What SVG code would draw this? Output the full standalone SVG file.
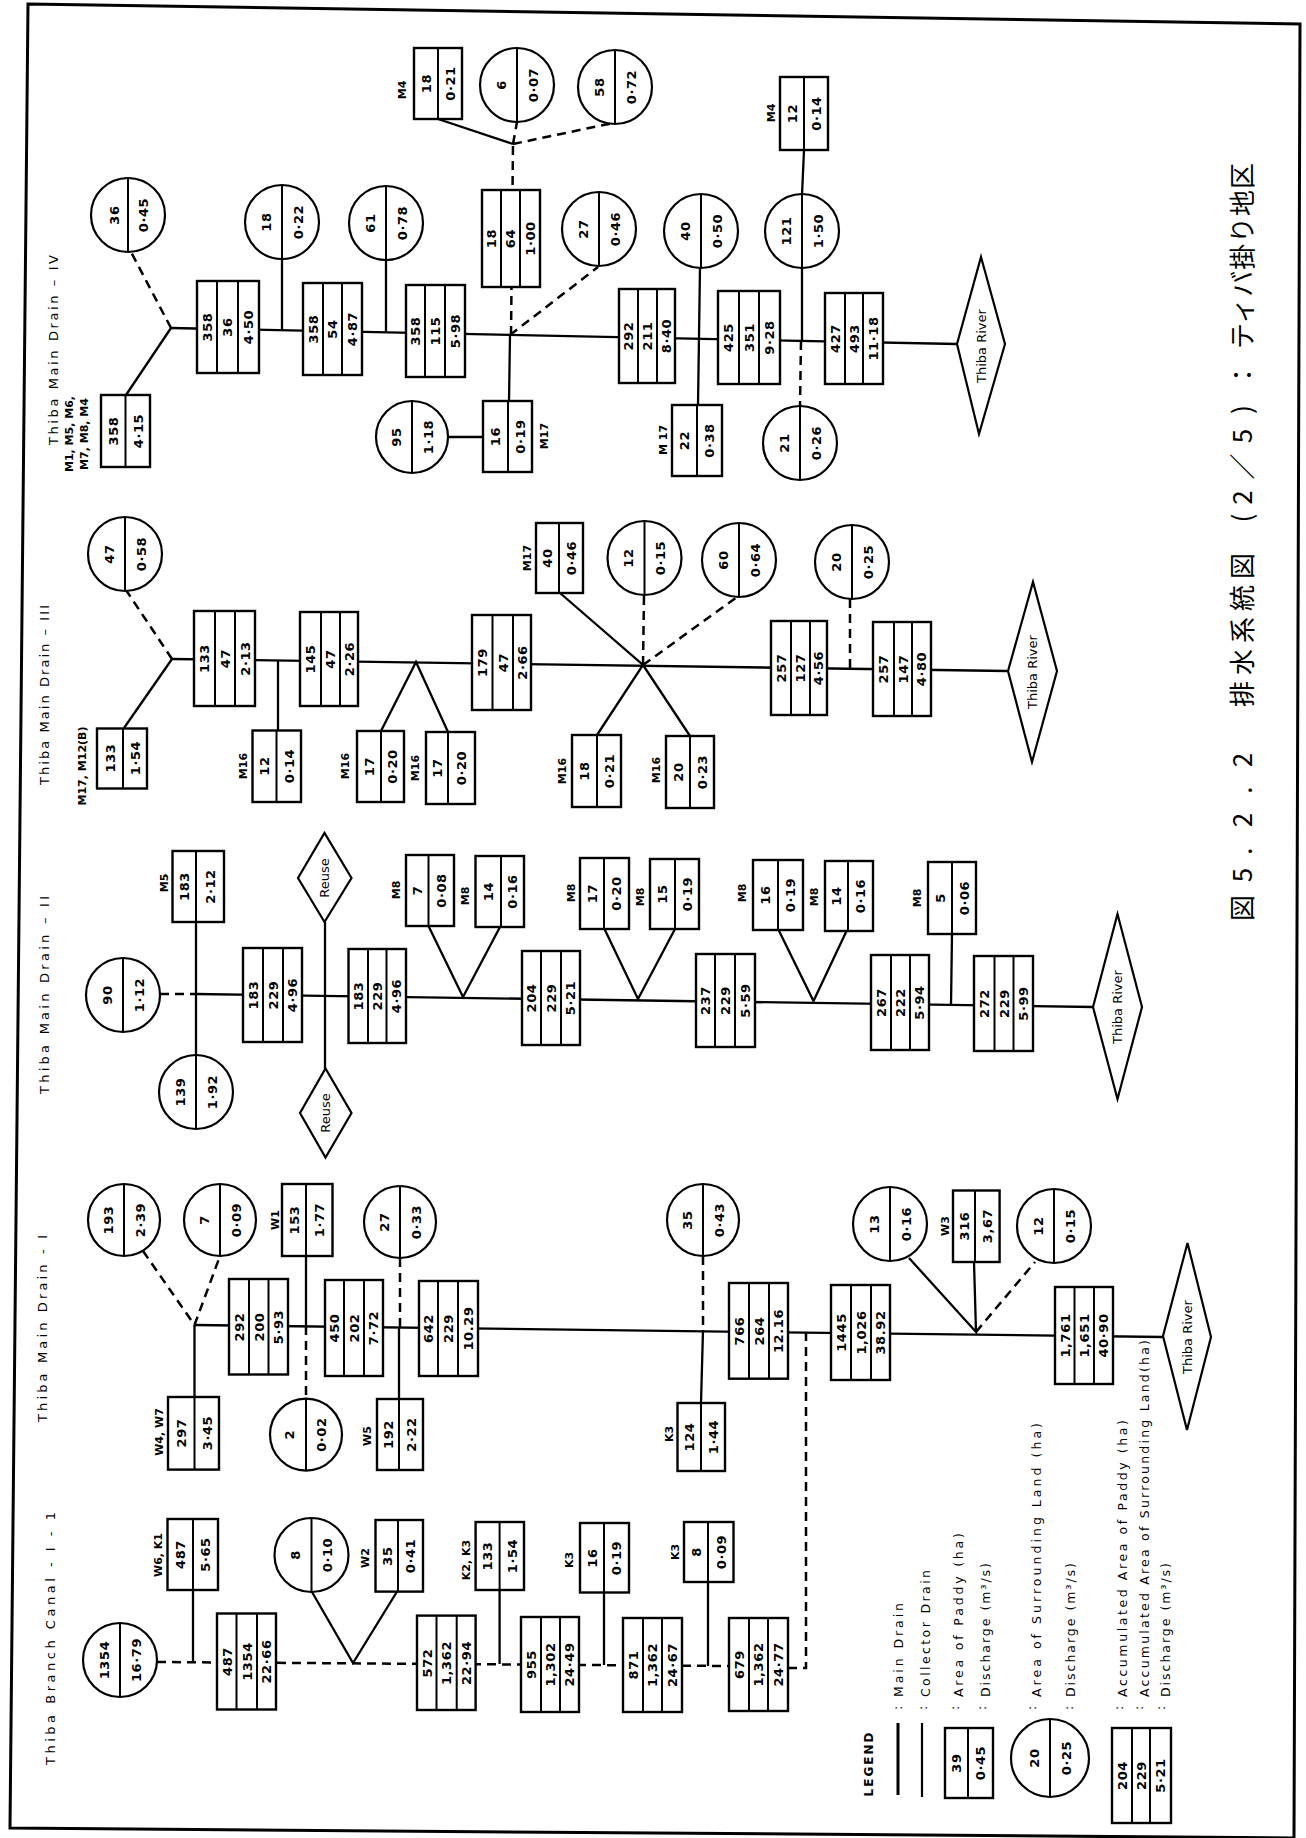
<svg xmlns="http://www.w3.org/2000/svg" width="1306" height="1838" viewBox="0 0 1306 1838">
<style>
.bx{fill:#fff;stroke:#000;stroke-width:2.4}
.dv{stroke:#000;stroke-width:2;fill:none}
.ci{fill:#fff;stroke:#000;stroke-width:2.2}
.ln{stroke:#000;stroke-width:2.3;fill:none}
.ds{stroke:#000;stroke-width:2.5;stroke-dasharray:9 6;fill:none}
.dm{fill:#fff;stroke:#000;stroke-width:2.2}
text{font-family:"DejaVu Sans","Liberation Sans",sans-serif;fill:#000}
.n{font-size:13px;font-weight:bold;text-anchor:middle;dominant-baseline:central;letter-spacing:0.6px}
.lb{font-size:11px;font-weight:bold;text-anchor:middle;dominant-baseline:central}
.ti{font-size:13px;dominant-baseline:central}
.rv{font-size:13px;text-anchor:middle;dominant-baseline:central}
.lg{font-size:12.5px;dominant-baseline:central}
.cap{font-family:"Noto Sans CJK JP","Noto Sans CJK SC",sans-serif;font-size:26px;text-anchor:middle;dominant-baseline:central}
</style>
<rect width="1306" height="1838" fill="#fff"/>
<polygon points="28,4 1300,24 1294,1838 10,1828" fill="none" stroke="#000" stroke-width="3"/>

<g id="connectors">
<!-- Drain IV -->
<path class="ln" d="M171 328 L957 344"/>
<path class="ln" d="M171 328 L126 395"/>
<path class="ds" d="M171 328 L131 252"/>
<path class="ln" d="M282 330 V259 M386 332 V260"/>
<path class="ds" d="M511 335 L513 144"/>
<path class="ln" d="M513 144 L438 119"/>
<path class="ds" d="M513 144 L517 122 M513 144 L613 123"/>
<path class="ds" d="M510 335 L598 267"/>
<path class="ln" d="M510 335 L509 401 M448 437 H483"/>
<path class="ln" d="M700 267 L698 405"/>
<path class="ln" d="M804 150 L802 195 M802 267 L802 341"/>
<path class="ds" d="M801 341 L800 406"/>
<!-- Drain III -->
<path class="ln" d="M172 659 L1007 671"/>
<path class="ln" d="M172 659 L124 728"/>
<path class="ds" d="M172 659 L126 590"/>
<path class="ln" d="M278 660 V731"/>
<path class="ln" d="M381 731 L416 662 L448 732"/>
<path class="ln" d="M560 593 L643 665 L597 735 M690 736 L643 665"/>
<path class="ds" d="M643 665 L644 595 M643 665 L737 597"/>
<path class="ds" d="M850 668 V599"/>
<!-- Drain II -->
<path class="ds" d="M160 994 H196"/>
<path class="ln" d="M196 994 L1093 1007"/>
<path class="ln" d="M196 922 V1055"/>
<path class="ln" d="M325 922 V1069"/>
<path class="ln" d="M428.5 926 L463 997 L500 927"/>
<path class="ln" d="M604 928 L638 999 L675 929"/>
<path class="ln" d="M778.6 930 L813.5 1001 L847 930"/>
<path class="ln" d="M952 934 L951 1005"/>
<!-- Drain I -->
<path class="ln" d="M194.5 1325 L1163 1337"/>
<path class="ds" d="M143 1251 L194.5 1325 L220 1256"/>
<path class="ln" d="M194.5 1325 V1397"/>
<path class="ln" d="M306 1256 V1326"/>
<path class="ds" d="M306 1326 V1398"/>
<path class="ds" d="M400 1258 V1327"/>
<path class="ln" d="M399 1327 V1399"/>
<path class="ds" d="M703 1256 V1330"/>
<path class="ln" d="M703 1330 L701 1403"/>
<path class="ds" d="M788 1668 H806 V1333"/>
<path class="ln" d="M909 1258 L976 1332 L974 1262"/>
<path class="ds" d="M976 1332 L1035 1262"/>
<!-- Branch canal -->
<path class="ds" d="M157 1662 L729 1666"/>
<path class="ln" d="M193 1590 V1662"/>
<path class="ln" d="M312 1592 L353 1663 L398 1590"/>
<path class="ln" d="M499.6 1590 V1664 M604 1592 V1665 M708 1582 V1666"/>
</g>

<!-- ============ Drain IV ============ -->
<g id="title-iv"><text class="ti" x="53" y="445" transform="rotate(-90 53 445)" textLength="190" lengthAdjust="spacing">Thiba Main Drain – IV</text></g>
<g id="iv-a">
<rect class="bx" x="101" y="395" width="49" height="72"/><path class="dv" d="M125.5 395V467"/>
<text class="n" x="113" y="431" transform="rotate(-90 113 431)">358</text>
<text class="n" x="138" y="431" transform="rotate(-90 138 431)">4·15</text>
<text class="lb" x="69.5" y="434" transform="rotate(-90 69.5 434)">M1, M5, M6,</text>
<text class="lb" x="84" y="434" transform="rotate(-90 84 434)">M7, M8, M4</text>
</g>
<g id="iv-c36"><circle class="ci" cx="128" cy="215" r="37"/><path class="dv" d="M128 178V252"/>
<text class="n" x="114" y="215" transform="rotate(-90 114 215)">36</text>
<text class="n" x="143" y="215" transform="rotate(-90 143 215)">0·45</text></g>
<g id="iv-b"><rect class="bx" x="197" y="281" width="62" height="92"/><path class="dv" d="M217 281V373M238 281V373"/>
<text class="n" x="207" y="327" transform="rotate(-90 207 327)">358</text>
<text class="n" x="227.5" y="327" transform="rotate(-90 227.5 327)">36</text>
<text class="n" x="248.5" y="327" transform="rotate(-90 248.5 327)">4·50</text></g>
<g id="iv-c18"><circle class="ci" cx="282" cy="222" r="37"/><path class="dv" d="M282 185V259"/>
<text class="n" x="266" y="222" transform="rotate(-90 266 222)">18</text>
<text class="n" x="298" y="222" transform="rotate(-90 298 222)">0·22</text></g>
<g id="iv-c"><rect class="bx" x="303" y="283" width="59" height="92"/><path class="dv" d="M323 283V375M342 283V375"/>
<text class="n" x="313" y="329" transform="rotate(-90 313 329)">358</text>
<text class="n" x="332.5" y="329" transform="rotate(-90 332.5 329)">54</text>
<text class="n" x="352" y="329" transform="rotate(-90 352 329)">4·87</text></g>
<g id="iv-c61"><circle class="ci" cx="386" cy="223" r="37"/><path class="dv" d="M386 186V260"/>
<text class="n" x="370" y="223" transform="rotate(-90 370 223)">61</text>
<text class="n" x="402" y="223" transform="rotate(-90 402 223)">0·78</text></g>
<g id="iv-d"><rect class="bx" x="406" y="285" width="59" height="92"/><path class="dv" d="M425 285V377M445 285V377"/>
<text class="n" x="415.5" y="331" transform="rotate(-90 415.5 331)">358</text>
<text class="n" x="435" y="331" transform="rotate(-90 435 331)">115</text>
<text class="n" x="455" y="331" transform="rotate(-90 455 331)">5·98</text></g>
<g id="iv-e"><rect class="bx" x="482" y="190" width="58" height="97"/><path class="dv" d="M501 190V287M520 190V287"/>
<text class="n" x="491.5" y="238.5" transform="rotate(-90 491.5 238.5)">18</text>
<text class="n" x="510.5" y="238.5" transform="rotate(-90 510.5 238.5)">64</text>
<text class="n" x="530" y="238.5" transform="rotate(-90 530 238.5)">1·00</text></g>
<g id="iv-m4a"><rect class="bx" x="414" y="48" width="48" height="71"/><path class="dv" d="M438 48V119"/>
<text class="n" x="426" y="83.5" transform="rotate(-90 426 83.5)">18</text>
<text class="n" x="450" y="83.5" transform="rotate(-90 450 83.5)">0·21</text>
<text class="lb" x="402" y="90" transform="rotate(-90 402 90)">M4</text></g>
<g id="iv-c6"><circle class="ci" cx="517" cy="85" r="37"/><path class="dv" d="M517 48V122"/>
<text class="n" x="501" y="85" transform="rotate(-90 501 85)">6</text>
<text class="n" x="533" y="85" transform="rotate(-90 533 85)">0·07</text></g>
<g id="iv-c58"><circle class="ci" cx="615" cy="87" r="37"/><path class="dv" d="M615 50V124"/>
<text class="n" x="599" y="87" transform="rotate(-90 599 87)">58</text>
<text class="n" x="631" y="87" transform="rotate(-90 631 87)">0·72</text></g>
<g id="iv-c27"><circle class="ci" cx="599" cy="229" r="37"/><path class="dv" d="M599 192V266"/>
<text class="n" x="583" y="229" transform="rotate(-90 583 229)">27</text>
<text class="n" x="615" y="229" transform="rotate(-90 615 229)">0·46</text></g>
<g id="iv-c95"><circle class="ci" cx="412" cy="437" r="36"/><path class="dv" d="M412 401V473"/>
<text class="n" x="396" y="437" transform="rotate(-90 396 437)">95</text>
<text class="n" x="428" y="437" transform="rotate(-90 428 437)">1·18</text></g>
<g id="iv-m17a"><rect class="bx" x="483" y="401" width="49" height="71"/><path class="dv" d="M508 401V472"/>
<text class="n" x="495.5" y="436.5" transform="rotate(-90 495.5 436.5)">16</text>
<text class="n" x="520" y="436.5" transform="rotate(-90 520 436.5)">0·19</text>
<text class="lb" x="544" y="436" transform="rotate(-90 544 436)">M17</text></g>
<g id="iv-f"><rect class="bx" x="619" y="289" width="56" height="94"/><path class="dv" d="M638 289V383M657 289V383"/>
<text class="n" x="628.5" y="336" transform="rotate(-90 628.5 336)">292</text>
<text class="n" x="647.5" y="336" transform="rotate(-90 647.5 336)">211</text>
<text class="n" x="666" y="336" transform="rotate(-90 666 336)">8·40</text></g>
<g id="iv-c40"><circle class="ci" cx="701" cy="231" r="37"/><path class="dv" d="M701 194V268"/>
<text class="n" x="685" y="231" transform="rotate(-90 685 231)">40</text>
<text class="n" x="717" y="231" transform="rotate(-90 717 231)">0·50</text></g>
<g id="iv-m17b"><rect class="bx" x="672" y="405" width="50" height="71"/><path class="dv" d="M697 405V476"/>
<text class="n" x="684.5" y="440.5" transform="rotate(-90 684.5 440.5)">22</text>
<text class="n" x="709.5" y="440.5" transform="rotate(-90 709.5 440.5)">0·38</text>
<text class="lb" x="663" y="440" transform="rotate(-90 663 440)">M 17</text></g>
<g id="iv-g"><rect class="bx" x="718" y="291" width="62" height="93"/><path class="dv" d="M739 291V384M759 291V384"/>
<text class="n" x="728.5" y="337.5" transform="rotate(-90 728.5 337.5)">425</text>
<text class="n" x="749" y="337.5" transform="rotate(-90 749 337.5)">351</text>
<text class="n" x="769.5" y="337.5" transform="rotate(-90 769.5 337.5)">9·28</text></g>
<g id="iv-m4b"><rect class="bx" x="780" y="77" width="48" height="73"/><path class="dv" d="M804 77V150"/>
<text class="n" x="792" y="113.5" transform="rotate(-90 792 113.5)">12</text>
<text class="n" x="816" y="113.5" transform="rotate(-90 816 113.5)">0·14</text>
<text class="lb" x="771" y="113" transform="rotate(-90 771 113)">M4</text></g>
<g id="iv-c121"><circle class="ci" cx="802" cy="231" r="37"/><path class="dv" d="M802 194V268"/>
<text class="n" x="786" y="231" transform="rotate(-90 786 231)">121</text>
<text class="n" x="818" y="231" transform="rotate(-90 818 231)">1·50</text></g>
<g id="iv-c21"><circle class="ci" cx="800" cy="443" r="37"/><path class="dv" d="M800 406V480"/>
<text class="n" x="784" y="443" transform="rotate(-90 784 443)">21</text>
<text class="n" x="816" y="443" transform="rotate(-90 816 443)">0·26</text></g>
<g id="iv-h"><rect class="bx" x="825" y="293" width="58" height="91"/><path class="dv" d="M845 293V384M863 293V384"/>
<text class="n" x="835" y="338.5" transform="rotate(-90 835 338.5)">427</text>
<text class="n" x="854" y="338.5" transform="rotate(-90 854 338.5)">493</text>
<text class="n" x="873" y="338.5" transform="rotate(-90 873 338.5)">11·18</text></g>
<g id="iv-river"><polygon class="dm" points="957,344 981,257 1005,344 979,434"/>
<text class="rv" x="981" y="346" transform="rotate(-90 981 346)">Thiba River</text></g>

<!-- ============ Drain III ============ -->
<g id="title-iii"><text class="ti" x="44" y="785" transform="rotate(-90 44 785)" textLength="180" lengthAdjust="spacing">Thiba Main Drain – III</text></g>
<g id="iii-a"><rect class="bx" x="97" y="728.5" width="50" height="60"/><path class="dv" d="M123 728.5V788.5"/>
<text class="n" x="110" y="758" transform="rotate(-90 110 758)">133</text>
<text class="n" x="135" y="758" transform="rotate(-90 135 758)">1·54</text>
<text class="lb" x="82" y="766" transform="rotate(-90 82 766)">M17, M12(B)</text></g>
<g id="iii-c47"><circle class="ci" cx="125" cy="554" r="37"/><path class="dv" d="M125 517V591"/>
<text class="n" x="109" y="554" transform="rotate(-90 109 554)">47</text>
<text class="n" x="141" y="554" transform="rotate(-90 141 554)">0·58</text></g>
<g id="iii-b"><rect class="bx" x="194" y="611" width="61" height="95"/><path class="dv" d="M215 611V706M235 611V706"/>
<text class="n" x="204.5" y="658.5" transform="rotate(-90 204.5 658.5)">133</text>
<text class="n" x="225" y="658.5" transform="rotate(-90 225 658.5)">47</text>
<text class="n" x="245" y="658.5" transform="rotate(-90 245 658.5)">2·13</text></g>
<g id="iii-m16a"><rect class="bx" x="252.5" y="730.5" width="48.5" height="71.5"/><path class="dv" d="M276.5 730.5V802"/>
<text class="n" x="264.5" y="766" transform="rotate(-90 264.5 766)">12</text>
<text class="n" x="289" y="766" transform="rotate(-90 289 766)">0·14</text>
<text class="lb" x="243" y="766" transform="rotate(-90 243 766)">M16</text></g>
<g id="iii-c"><rect class="bx" x="300" y="612" width="58" height="94"/><path class="dv" d="M321 612V706M340 612V706"/>
<text class="n" x="310.5" y="659" transform="rotate(-90 310.5 659)">145</text>
<text class="n" x="330.5" y="659" transform="rotate(-90 330.5 659)">47</text>
<text class="n" x="349" y="659" transform="rotate(-90 349 659)">2·26</text></g>
<g id="iii-m16b"><rect class="bx" x="357" y="731" width="47" height="71"/><path class="dv" d="M381 731V802"/>
<text class="n" x="369" y="766.5" transform="rotate(-90 369 766.5)">17</text>
<text class="n" x="392.5" y="766.5" transform="rotate(-90 392.5 766.5)">0·20</text>
<text class="lb" x="345" y="766" transform="rotate(-90 345 766)">M16</text></g>
<g id="iii-m16c"><rect class="bx" x="426" y="732" width="49" height="72"/><path class="dv" d="M448 732V804"/>
<text class="n" x="437" y="768" transform="rotate(-90 437 768)">17</text>
<text class="n" x="461.5" y="768" transform="rotate(-90 461.5 768)">0·20</text>
<text class="lb" x="415" y="768" transform="rotate(-90 415 768)">M16</text></g>
<g id="iii-d"><rect class="bx" x="472" y="615" width="59" height="95"/><path class="dv" d="M492.5 615V710M513 615V710"/>
<text class="n" x="482" y="662.5" transform="rotate(-90 482 662.5)">179</text>
<text class="n" x="503" y="662.5" transform="rotate(-90 503 662.5)">47</text>
<text class="n" x="522" y="662.5" transform="rotate(-90 522 662.5)">2·66</text></g>
<g id="iii-m17"><rect class="bx" x="536" y="523" width="47" height="70"/><path class="dv" d="M559 523V593"/>
<text class="n" x="547.5" y="558" transform="rotate(-90 547.5 558)">40</text>
<text class="n" x="571" y="558" transform="rotate(-90 571 558)">0·46</text>
<text class="lb" x="527" y="558" transform="rotate(-90 527 558)">M17</text></g>
<g id="iii-c12"><circle class="ci" cx="644.5" cy="558" r="37"/><path class="dv" d="M644.5 521V595"/>
<text class="n" x="628.5" y="558" transform="rotate(-90 628.5 558)">12</text>
<text class="n" x="660.5" y="558" transform="rotate(-90 660.5 558)">0·15</text></g>
<g id="iii-c60"><circle class="ci" cx="739" cy="560" r="37"/><path class="dv" d="M739 523V597"/>
<text class="n" x="723" y="560" transform="rotate(-90 723 560)">60</text>
<text class="n" x="755" y="560" transform="rotate(-90 755 560)">0·64</text></g>
<g id="iii-m16d"><rect class="bx" x="572" y="735" width="49" height="72"/><path class="dv" d="M597 735V807"/>
<text class="n" x="584.5" y="771" transform="rotate(-90 584.5 771)">18</text>
<text class="n" x="609" y="771" transform="rotate(-90 609 771)">0·21</text>
<text class="lb" x="562" y="771" transform="rotate(-90 562 771)">M16</text></g>
<g id="iii-m16e"><rect class="bx" x="666" y="736" width="48" height="72"/><path class="dv" d="M690 736V808"/>
<text class="n" x="678" y="772" transform="rotate(-90 678 772)">20</text>
<text class="n" x="702" y="772" transform="rotate(-90 702 772)">0·23</text>
<text class="lb" x="656" y="770" transform="rotate(-90 656 770)">M16</text></g>
<g id="iii-e"><rect class="bx" x="771" y="621" width="56" height="94"/><path class="dv" d="M791 621V715M810 621V715"/>
<text class="n" x="781" y="668" transform="rotate(-90 781 668)">257</text>
<text class="n" x="800.5" y="668" transform="rotate(-90 800.5 668)">127</text>
<text class="n" x="818.5" y="668" transform="rotate(-90 818.5 668)">4·56</text></g>
<g id="iii-c20"><circle class="ci" cx="852" cy="562" r="37"/><path class="dv" d="M852 525V599"/>
<text class="n" x="836" y="562" transform="rotate(-90 836 562)">20</text>
<text class="n" x="868" y="562" transform="rotate(-90 868 562)">0·25</text></g>
<g id="iii-f"><rect class="bx" x="873" y="622" width="58" height="94"/><path class="dv" d="M894 622V716M912 622V716"/>
<text class="n" x="883.5" y="669" transform="rotate(-90 883.5 669)">257</text>
<text class="n" x="903" y="669" transform="rotate(-90 903 669)">147</text>
<text class="n" x="921.5" y="669" transform="rotate(-90 921.5 669)">4·80</text></g>
<g id="iii-river"><polygon class="dm" points="1008,671 1033,582 1057,671 1032,762"/>
<text class="rv" x="1032" y="672" transform="rotate(-90 1032 672)">Thiba River</text></g>

<!-- ============ Drain II ============ -->
<g id="title-ii"><text class="ti" x="44" y="1094" transform="rotate(-90 44 1094)" textLength="198" lengthAdjust="spacing">Thiba Main Drain – II</text></g>
<g id="ii-c90"><circle class="ci" cx="123" cy="995" r="37"/><path class="dv" d="M123 958V1032"/>
<text class="n" x="107" y="995" transform="rotate(-90 107 995)">90</text>
<text class="n" x="139" y="995" transform="rotate(-90 139 995)">1·12</text></g>
<g id="ii-c139"><circle class="ci" cx="196" cy="1092" r="37"/><path class="dv" d="M196 1055V1129"/>
<text class="n" x="180" y="1092" transform="rotate(-90 180 1092)">139</text>
<text class="n" x="212" y="1092" transform="rotate(-90 212 1092)">1·92</text></g>
<g id="ii-m5"><rect class="bx" x="172.5" y="851" width="51.5" height="71"/><path class="dv" d="M196 851V922"/>
<text class="n" x="184" y="886.5" transform="rotate(-90 184 886.5)">183</text>
<text class="n" x="210" y="886.5" transform="rotate(-90 210 886.5)">2·12</text>
<text class="lb" x="164" y="883" transform="rotate(-90 164 883)">M5</text></g>
<g id="ii-a"><rect class="bx" x="243" y="948" width="59" height="94"/><path class="dv" d="M263 948V1042M283 948V1042"/>
<text class="n" x="253" y="995" transform="rotate(-90 253 995)">183</text>
<text class="n" x="273" y="995" transform="rotate(-90 273 995)">229</text>
<text class="n" x="292.5" y="995" transform="rotate(-90 292.5 995)">4·96</text></g>
<g id="ii-reuse1"><polygon class="dm" points="298,878 324.5,833 351.5,878 324.5,922"/>
<text class="rv" x="324.5" y="878" transform="rotate(-90 324.5 878)">Reuse</text></g>
<g id="ii-reuse2"><polygon class="dm" points="300,1113 325.5,1068.5 351.5,1113 325.5,1157.5"/>
<text class="rv" x="325.5" y="1113" transform="rotate(-90 325.5 1113)">Reuse</text></g>
<g id="ii-b"><rect class="bx" x="348.5" y="949" width="57.5" height="94"/><path class="dv" d="M368 949V1043M386.5 949V1043"/>
<text class="n" x="358" y="996" transform="rotate(-90 358 996)">183</text>
<text class="n" x="377" y="996" transform="rotate(-90 377 996)">229</text>
<text class="n" x="396" y="996" transform="rotate(-90 396 996)">4·96</text></g>
<g id="ii-m8a"><rect class="bx" x="406" y="855" width="48" height="71"/><path class="dv" d="M428.5 855V926"/>
<text class="n" x="417" y="890.5" transform="rotate(-90 417 890.5)">7</text>
<text class="n" x="441" y="890.5" transform="rotate(-90 441 890.5)">0·08</text>
<text class="lb" x="396" y="890" transform="rotate(-90 396 890)">M8</text></g>
<g id="ii-m8b"><rect class="bx" x="475.5" y="856" width="48.5" height="71"/><path class="dv" d="M501 856V927"/>
<text class="n" x="488" y="891.5" transform="rotate(-90 488 891.5)">14</text>
<text class="n" x="512.5" y="891.5" transform="rotate(-90 512.5 891.5)">0·16</text>
<text class="lb" x="465" y="896" transform="rotate(-90 465 896)">M8</text></g>
<g id="ii-c"><rect class="bx" x="522" y="951" width="58" height="94"/><path class="dv" d="M541 951V1045M561 951V1045"/>
<text class="n" x="531.5" y="998" transform="rotate(-90 531.5 998)">204</text>
<text class="n" x="551" y="998" transform="rotate(-90 551 998)">229</text>
<text class="n" x="570.5" y="998" transform="rotate(-90 570.5 998)">5·21</text></g>
<g id="ii-m8c"><rect class="bx" x="580" y="858" width="49" height="71"/><path class="dv" d="M604 858V929"/>
<text class="n" x="592" y="893.5" transform="rotate(-90 592 893.5)">17</text>
<text class="n" x="616.5" y="893.5" transform="rotate(-90 616.5 893.5)">0·20</text>
<text class="lb" x="571" y="893" transform="rotate(-90 571 893)">M8</text></g>
<g id="ii-m8d"><rect class="bx" x="650" y="859" width="49" height="70"/><path class="dv" d="M675 859V929"/>
<text class="n" x="662.5" y="894" transform="rotate(-90 662.5 894)">15</text>
<text class="n" x="687" y="894" transform="rotate(-90 687 894)">0·19</text>
<text class="lb" x="640" y="897" transform="rotate(-90 640 897)">M8</text></g>
<g id="ii-d"><rect class="bx" x="696" y="954" width="59" height="93"/><path class="dv" d="M715 954V1047M735 954V1047"/>
<text class="n" x="705.5" y="1000.5" transform="rotate(-90 705.5 1000.5)">237</text>
<text class="n" x="725" y="1000.5" transform="rotate(-90 725 1000.5)">229</text>
<text class="n" x="745" y="1000.5" transform="rotate(-90 745 1000.5)">5·59</text></g>
<g id="ii-m8e"><rect class="bx" x="753" y="860" width="50" height="70"/><path class="dv" d="M778 860V930"/>
<text class="n" x="765.5" y="895" transform="rotate(-90 765.5 895)">16</text>
<text class="n" x="790.5" y="895" transform="rotate(-90 790.5 895)">0·19</text>
<text class="lb" x="742" y="893" transform="rotate(-90 742 893)">M8</text></g>
<g id="ii-m8f"><rect class="bx" x="825" y="861" width="48" height="70"/><path class="dv" d="M848 861V931"/>
<text class="n" x="836.5" y="896" transform="rotate(-90 836.5 896)">14</text>
<text class="n" x="860.5" y="896" transform="rotate(-90 860.5 896)">0·16</text>
<text class="lb" x="814" y="897" transform="rotate(-90 814 897)">M8</text></g>
<g id="ii-e"><rect class="bx" x="871" y="955" width="58" height="95"/><path class="dv" d="M891 955V1050M910 955V1050"/>
<text class="n" x="881" y="1002.5" transform="rotate(-90 881 1002.5)">267</text>
<text class="n" x="900.5" y="1002.5" transform="rotate(-90 900.5 1002.5)">222</text>
<text class="n" x="919.5" y="1002.5" transform="rotate(-90 919.5 1002.5)">5·94</text></g>
<g id="ii-m8g"><rect class="bx" x="928" y="862" width="48" height="72"/><path class="dv" d="M952 862V934"/>
<text class="n" x="940" y="898" transform="rotate(-90 940 898)">5</text>
<text class="n" x="964" y="898" transform="rotate(-90 964 898)">0·06</text>
<text class="lb" x="917" y="898" transform="rotate(-90 917 898)">M8</text></g>
<g id="ii-f"><rect class="bx" x="974" y="956" width="59" height="95"/><path class="dv" d="M994.5 956V1051M1013.5 956V1051"/>
<text class="n" x="984" y="1003.5" transform="rotate(-90 984 1003.5)">272</text>
<text class="n" x="1004" y="1003.5" transform="rotate(-90 1004 1003.5)">229</text>
<text class="n" x="1023" y="1003.5" transform="rotate(-90 1023 1003.5)">5·99</text></g>
<g id="ii-river"><polygon class="dm" points="1093,1007 1117.5,914 1142,1007 1117.5,1099"/>
<text class="rv" x="1117.5" y="1007" transform="rotate(-90 1117.5 1007)">Thiba River</text></g>

<!-- ============ Drain I ============ -->
<g id="title-i"><text class="ti" x="42" y="1422" transform="rotate(-90 42 1422)" textLength="187" lengthAdjust="spacing">Thiba Main Drain - I</text></g>
<g id="i-c193"><circle class="ci" cx="124" cy="1220" r="36"/><path class="dv" d="M124 1184V1256"/>
<text class="n" x="108" y="1220" transform="rotate(-90 108 1220)">193</text>
<text class="n" x="140" y="1220" transform="rotate(-90 140 1220)">2·39</text></g>
<g id="i-c7"><circle class="ci" cx="220" cy="1220" r="36"/><path class="dv" d="M220 1184V1256"/>
<text class="n" x="204" y="1220" transform="rotate(-90 204 1220)">7</text>
<text class="n" x="236" y="1220" transform="rotate(-90 236 1220)">0·09</text></g>
<g id="i-w4"><rect class="bx" x="168" y="1397" width="51" height="72.6"/><path class="dv" d="M194.5 1397V1469.6"/>
<text class="n" x="181" y="1433" transform="rotate(-90 181 1433)">297</text>
<text class="n" x="207" y="1433" transform="rotate(-90 207 1433)">3·45</text>
<text class="lb" x="159" y="1432" transform="rotate(-90 159 1432)">W4, W7</text></g>
<g id="i-a"><rect class="bx" x="229" y="1279" width="59" height="95.5"/><path class="dv" d="M249 1279V1374.5M268.5 1279V1374.5"/>
<text class="n" x="239" y="1327" transform="rotate(-90 239 1327)">292</text>
<text class="n" x="259" y="1327" transform="rotate(-90 259 1327)">200</text>
<text class="n" x="278" y="1327" transform="rotate(-90 278 1327)">5·93</text></g>
<g id="i-w1"><rect class="bx" x="282" y="1184" width="50.5" height="72"/><path class="dv" d="M306 1184V1256"/>
<text class="n" x="294" y="1220" transform="rotate(-90 294 1220)">153</text>
<text class="n" x="319" y="1220" transform="rotate(-90 319 1220)">1·77</text>
<text class="lb" x="275" y="1220" transform="rotate(-90 275 1220)">W1</text></g>
<g id="i-c2"><circle class="ci" cx="306" cy="1434.6" r="36"/><path class="dv" d="M306 1398.6V1470.6"/>
<text class="n" x="290" y="1434.6" transform="rotate(-90 290 1434.6)">2</text>
<text class="n" x="322" y="1434.6" transform="rotate(-90 322 1434.6)">0·02</text></g>
<g id="i-b"><rect class="bx" x="325" y="1280" width="58" height="96"/><path class="dv" d="M344 1280V1376M364 1280V1376"/>
<text class="n" x="334.5" y="1328" transform="rotate(-90 334.5 1328)">450</text>
<text class="n" x="354" y="1328" transform="rotate(-90 354 1328)">202</text>
<text class="n" x="373.5" y="1328" transform="rotate(-90 373.5 1328)">7·72</text></g>
<g id="i-c27"><circle class="ci" cx="400" cy="1222" r="36"/><path class="dv" d="M400 1186V1258"/>
<text class="n" x="384" y="1222" transform="rotate(-90 384 1222)">27</text>
<text class="n" x="416" y="1222" transform="rotate(-90 416 1222)">0·33</text></g>
<g id="i-w5"><rect class="bx" x="377" y="1399" width="46" height="71"/><path class="dv" d="M399 1399V1470"/>
<text class="n" x="388" y="1434.5" transform="rotate(-90 388 1434.5)">192</text>
<text class="n" x="411" y="1434.5" transform="rotate(-90 411 1434.5)">2·22</text>
<text class="lb" x="367" y="1436" transform="rotate(-90 367 1436)">W5</text></g>
<g id="i-c"><rect class="bx" x="419" y="1281" width="59" height="95"/><path class="dv" d="M438 1281V1376M458 1281V1376"/>
<text class="n" x="428.5" y="1328.5" transform="rotate(-90 428.5 1328.5)">642</text>
<text class="n" x="448" y="1328.5" transform="rotate(-90 448 1328.5)">229</text>
<text class="n" x="468" y="1328.5" transform="rotate(-90 468 1328.5)">10.29</text></g>
<g id="i-c35"><circle class="ci" cx="703" cy="1220" r="36"/><path class="dv" d="M703 1184V1256"/>
<text class="n" x="687" y="1220" transform="rotate(-90 687 1220)">35</text>
<text class="n" x="719" y="1220" transform="rotate(-90 719 1220)">0·43</text></g>
<g id="i-k3"><rect class="bx" x="677.5" y="1403" width="47.5" height="68"/><path class="dv" d="M701 1403V1471"/>
<text class="n" x="689" y="1437" transform="rotate(-90 689 1437)">124</text>
<text class="n" x="713" y="1437" transform="rotate(-90 713 1437)">1·44</text>
<text class="lb" x="669" y="1434" transform="rotate(-90 669 1434)">K3</text></g>
<g id="i-d"><rect class="bx" x="729" y="1283" width="59" height="95.7"/><path class="dv" d="M749 1283V1378.7M769 1283V1378.7"/>
<text class="n" x="739" y="1331" transform="rotate(-90 739 1331)">766</text>
<text class="n" x="759" y="1331" transform="rotate(-90 759 1331)">264</text>
<text class="n" x="778.5" y="1331" transform="rotate(-90 778.5 1331)">12.16</text></g>
<g id="i-e"><rect class="bx" x="831" y="1285" width="59" height="95"/><path class="dv" d="M851 1285V1380M871 1285V1380"/>
<text class="n" x="841" y="1332.5" transform="rotate(-90 841 1332.5)">1445</text>
<text class="n" x="861" y="1332.5" transform="rotate(-90 861 1332.5)">1,026</text>
<text class="n" x="880.5" y="1332.5" transform="rotate(-90 880.5 1332.5)">38.92</text></g>
<g id="i-c13"><circle class="ci" cx="890" cy="1224" r="37"/><path class="dv" d="M890 1187V1261"/>
<text class="n" x="874" y="1224" transform="rotate(-90 874 1224)">13</text>
<text class="n" x="906" y="1224" transform="rotate(-90 906 1224)">0·16</text></g>
<g id="i-w3"><rect class="bx" x="953" y="1190.5" width="46.6" height="71.5"/><path class="dv" d="M975 1190.5V1262"/>
<text class="n" x="964" y="1226" transform="rotate(-90 964 1226)">316</text>
<text class="n" x="987.5" y="1226" transform="rotate(-90 987.5 1226)">3,67</text>
<text class="lb" x="945" y="1226" transform="rotate(-90 945 1226)">W3</text></g>
<g id="i-c12"><circle class="ci" cx="1054" cy="1226" r="37"/><path class="dv" d="M1054 1189V1263"/>
<text class="n" x="1038" y="1226" transform="rotate(-90 1038 1226)">12</text>
<text class="n" x="1070" y="1226" transform="rotate(-90 1070 1226)">0·15</text></g>
<g id="i-f"><rect class="bx" x="1055" y="1287" width="58" height="97"/><path class="dv" d="M1074.5 1287V1384M1094 1287V1384"/>
<text class="n" x="1065" y="1335.5" transform="rotate(-90 1065 1335.5)">1,761</text>
<text class="n" x="1084" y="1335.5" transform="rotate(-90 1084 1335.5)">1,651</text>
<text class="n" x="1103.5" y="1335.5" transform="rotate(-90 1103.5 1335.5)">40·90</text></g>
<g id="i-river"><polygon class="dm" points="1163,1336 1187.5,1243 1211,1337 1187,1430"/>
<text class="rv" x="1187.5" y="1337" transform="rotate(-90 1187.5 1337)">Thiba River</text></g>

<!-- ============ Branch canal ============ -->
<g id="title-bc"><text class="ti" x="50.5" y="1765" transform="rotate(-90 50.5 1765)" textLength="253" lengthAdjust="spacing">Thiba Branch Canal - I - 1</text></g>
<g id="b-c1354"><circle class="ci" cx="120" cy="1660" r="37"/><path class="dv" d="M120 1623V1697"/>
<text class="n" x="104" y="1660" transform="rotate(-90 104 1660)">1354</text>
<text class="n" x="136" y="1660" transform="rotate(-90 136 1660)">16·79</text></g>
<g id="b-w6"><rect class="bx" x="167.5" y="1519" width="50.5" height="71"/><path class="dv" d="M193 1519V1590"/>
<text class="n" x="180" y="1554.5" transform="rotate(-90 180 1554.5)">487</text>
<text class="n" x="205.5" y="1554.5" transform="rotate(-90 205.5 1554.5)">5·65</text>
<text class="lb" x="158" y="1555" transform="rotate(-90 158 1555)">W6, K1</text></g>
<g id="b-a"><rect class="bx" x="217" y="1613.5" width="59" height="96"/><path class="dv" d="M236.5 1613.5V1709.5M257 1613.5V1709.5"/>
<text class="n" x="227" y="1661.5" transform="rotate(-90 227 1661.5)">487</text>
<text class="n" x="247" y="1661.5" transform="rotate(-90 247 1661.5)">1354</text>
<text class="n" x="266.5" y="1661.5" transform="rotate(-90 266.5 1661.5)">22·66</text></g>
<g id="b-c8"><circle class="ci" cx="311.5" cy="1555" r="37"/><path class="dv" d="M311.5 1518V1592"/>
<text class="n" x="295.5" y="1555" transform="rotate(-90 295.5 1555)">8</text>
<text class="n" x="327.5" y="1555" transform="rotate(-90 327.5 1555)">0·10</text></g>
<g id="b-w2"><rect class="bx" x="375.5" y="1520" width="47.5" height="71.6"/><path class="dv" d="M398 1520V1591.6"/>
<text class="n" x="387" y="1556" transform="rotate(-90 387 1556)">35</text>
<text class="n" x="410.5" y="1556" transform="rotate(-90 410.5 1556)">0·41</text>
<text class="lb" x="365" y="1558" transform="rotate(-90 365 1558)">W2</text></g>
<g id="b-b"><rect class="bx" x="417" y="1615.6" width="58.6" height="94.4"/><path class="dv" d="M436.5 1615.6V1710M456.7 1615.6V1710"/>
<text class="n" x="427" y="1663" transform="rotate(-90 427 1663)">572</text>
<text class="n" x="446.5" y="1663" transform="rotate(-90 446.5 1663)">1,362</text>
<text class="n" x="466" y="1663" transform="rotate(-90 466 1663)">22·94</text></g>
<g id="b-k23"><rect class="bx" x="475.6" y="1522" width="48.4" height="68"/><path class="dv" d="M499.6 1522V1590"/>
<text class="n" x="487.5" y="1556" transform="rotate(-90 487.5 1556)">133</text>
<text class="n" x="512" y="1556" transform="rotate(-90 512 1556)">1·54</text>
<text class="lb" x="466" y="1560" transform="rotate(-90 466 1560)">K2, K3</text></g>
<g id="b-c"><rect class="bx" x="521" y="1617" width="58" height="95"/><path class="dv" d="M541 1617V1712M560 1617V1712"/>
<text class="n" x="531" y="1664.5" transform="rotate(-90 531 1664.5)">955</text>
<text class="n" x="550.5" y="1664.5" transform="rotate(-90 550.5 1664.5)">1,302</text>
<text class="n" x="569.5" y="1664.5" transform="rotate(-90 569.5 1664.5)">24·49</text></g>
<g id="b-k3a"><rect class="bx" x="580" y="1523" width="49" height="69.5"/><path class="dv" d="M604 1523V1592.5"/>
<text class="n" x="592" y="1558" transform="rotate(-90 592 1558)">16</text>
<text class="n" x="616.5" y="1558" transform="rotate(-90 616.5 1558)">0·19</text>
<text class="lb" x="569" y="1560" transform="rotate(-90 569 1560)">K3</text></g>
<g id="b-d"><rect class="bx" x="623" y="1618" width="59" height="94"/><path class="dv" d="M643 1618V1712M662 1618V1712"/>
<text class="n" x="633" y="1665" transform="rotate(-90 633 1665)">871</text>
<text class="n" x="652.5" y="1665" transform="rotate(-90 652.5 1665)">1,362</text>
<text class="n" x="672" y="1665" transform="rotate(-90 672 1665)">24·67</text></g>
<g id="b-k3b"><rect class="bx" x="684" y="1522" width="49.5" height="60"/><path class="dv" d="M708 1522V1582"/>
<text class="n" x="696" y="1552" transform="rotate(-90 696 1552)">8</text>
<text class="n" x="721" y="1552" transform="rotate(-90 721 1552)">0·09</text>
<text class="lb" x="675" y="1552" transform="rotate(-90 675 1552)">K3</text></g>
<g id="b-e"><rect class="bx" x="729" y="1618" width="59" height="93"/><path class="dv" d="M749 1618V1711M768 1618V1711"/>
<text class="n" x="739" y="1664.5" transform="rotate(-90 739 1664.5)">679</text>
<text class="n" x="758.5" y="1664.5" transform="rotate(-90 758.5 1664.5)">1,362</text>
<text class="n" x="778" y="1664.5" transform="rotate(-90 778 1664.5)">24·77</text></g>

<!-- ============ Legend ============ -->
<g id="legend">
<text class="lb" x="869" y="1763.5" transform="rotate(-90 869 1763.5)" style="font-size:12px;letter-spacing:2px">LEGEND</text>
<path d="M898 1723V1795" stroke="#000" stroke-width="3"/>
<path d="M922 1723V1797" stroke="#000" stroke-width="2.2"/>
<rect class="bx" x="945" y="1728" width="48" height="70"/><path class="dv" d="M968 1728V1798"/>
<text class="n" x="956.5" y="1763" transform="rotate(-90 956.5 1763)">39</text>
<text class="n" x="980.5" y="1763" transform="rotate(-90 980.5 1763)">0·45</text>
<circle class="ci" cx="1050" cy="1758" r="39"/><path class="dv" d="M1050 1719V1797"/>
<text class="n" x="1034" y="1758" transform="rotate(-90 1034 1758)">20</text>
<text class="n" x="1066" y="1758" transform="rotate(-90 1066 1758)">0·25</text>
<rect class="bx" x="1112" y="1728" width="59" height="95"/><path class="dv" d="M1132 1728V1823M1150 1728V1823"/>
<text class="n" x="1122" y="1775.5" transform="rotate(-90 1122 1775.5)">204</text>
<text class="n" x="1141" y="1775.5" transform="rotate(-90 1141 1775.5)">229</text>
<text class="n" x="1160.5" y="1775.5" transform="rotate(-90 1160.5 1775.5)">5·21</text>
<text class="lg" x="897" y="1710" transform="rotate(-90 897 1710)">:</text>
<text class="lg" x="922" y="1710" transform="rotate(-90 922 1710)">:</text>
<text class="lg" x="954" y="1710" transform="rotate(-90 954 1710)">:</text>
<text class="lg" x="981" y="1710" transform="rotate(-90 981 1710)">:</text>
<text class="lg" x="1031" y="1710" transform="rotate(-90 1031 1710)">:</text>
<text class="lg" x="1068" y="1710" transform="rotate(-90 1068 1710)">:</text>
<text class="lg" x="1118" y="1710" transform="rotate(-90 1118 1710)">:</text>
<text class="lg" x="1138" y="1710" transform="rotate(-90 1138 1710)">:</text>
<text class="lg" x="1160" y="1710" transform="rotate(-90 1160 1710)">:</text>
<text class="lg" x="898" y="1697" transform="rotate(-90 898 1697)" textLength="94" lengthAdjust="spacing">Main Drain</text>
<text class="lg" x="925" y="1697" transform="rotate(-90 925 1697)" textLength="127" lengthAdjust="spacing">Collector Drain</text>
<text class="lg" x="958" y="1697" transform="rotate(-90 958 1697)" textLength="164" lengthAdjust="spacing">Area of Paddy (ha)</text>
<text class="lg" x="985" y="1697" transform="rotate(-90 985 1697)" textLength="134" lengthAdjust="spacing">Discharge (m³/s)</text>
<text class="lg" x="1036" y="1697" transform="rotate(-90 1036 1697)" textLength="274" lengthAdjust="spacing">Area of Surrounding Land (ha)</text>
<text class="lg" x="1070" y="1697" transform="rotate(-90 1070 1697)" textLength="134" lengthAdjust="spacing">Discharge (m³/s)</text>
<text class="lg" x="1122" y="1697" transform="rotate(-90 1122 1697)" textLength="277" lengthAdjust="spacing">Accumulated Area of Paddy (ha)</text>
<text class="lg" x="1144" y="1697" transform="rotate(-90 1144 1697)" textLength="357" lengthAdjust="spacing">Accumulated Area of Surrounding Land(ha)</text>
<text class="lg" x="1165" y="1697" transform="rotate(-90 1165 1697)" textLength="134" lengthAdjust="spacing">Discharge (m³/s)</text>
</g>

<!-- ============ Caption ============ -->
<g id="caption">
<text class="cap" x="1240" y="908" transform="rotate(-90 1240 908)">図</text>
<text class="cap" x="1240" y="875" transform="rotate(-90 1240 875)">5</text>
<text class="cap" x="1240" y="851" transform="rotate(-90 1240 851)">.</text>
<text class="cap" x="1240" y="820" transform="rotate(-90 1240 820)">2</text>
<text class="cap" x="1240" y="790" transform="rotate(-90 1240 790)">.</text>
<text class="cap" x="1240" y="760" transform="rotate(-90 1240 760)">2</text>
<text class="cap" x="1240" y="630" transform="rotate(-90 1240 630)" textLength="154" lengthAdjust="spacing">排水系統図</text>
<text class="cap" x="1240" y="518" transform="rotate(-90 1240 518)">(</text>
<text class="cap" x="1240" y="497.5" transform="rotate(-90 1240 497.5)">2</text>
<text class="cap" x="1240" y="466.5" transform="rotate(-90 1240 466.5)">／</text>
<text class="cap" x="1240" y="436" transform="rotate(-90 1240 436)">5</text>
<text class="cap" x="1240" y="409.5" transform="rotate(-90 1240 409.5)">)</text>
<text class="cap" x="1240" y="375" transform="rotate(-90 1240 375)">：</text>
<text class="cap" x="1240" y="256" transform="rotate(-90 1240 256)" textLength="186" lengthAdjust="spacing">ティバ掛り地区</text>
</g>
</svg>
